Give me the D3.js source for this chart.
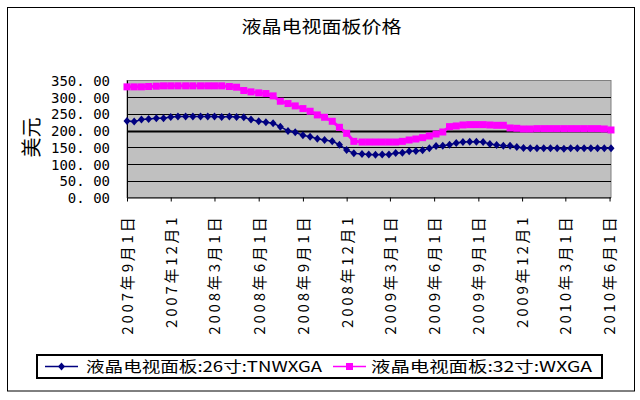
<!DOCTYPE html>
<html>
<head>
<meta charset="utf-8">
<script src="https://cdn.jsdelivr.net/npm/d3@7/dist/d3.min.js"></script>
<style>
  html, body { margin: 0; padding: 0; background: #fff; }
  svg { display: block; }
</style>
</head>
<body>
<svg id="chart" width="640" height="400"></svg>
<script>
// ---------- data ----------
const chartTitle = "液晶电视面板价格";
const yTitle = "美元";
const seriesNames = ["液晶电视面板:26寸:TNWXGA", "液晶电视面板:32寸:WXGA"];

const dates = [
  "2007-09-01","2007-09-16","2007-10-01","2007-10-16","2007-11-01","2007-11-16",
  "2007-12-01","2007-12-16","2008-01-01","2008-01-16","2008-02-01","2008-02-16",
  "2008-03-01","2008-03-16","2008-04-01","2008-04-16","2008-05-01","2008-05-16",
  "2008-06-01","2008-06-16","2008-07-01","2008-07-16","2008-08-01","2008-08-16",
  "2008-09-01","2008-09-16","2008-10-01","2008-10-16","2008-11-01","2008-11-16",
  "2008-12-01","2008-12-16",
  "2009-01-02","2009-01-16","2009-01-30","2009-02-13","2009-02-27","2009-03-13",
  "2009-03-27","2009-04-10","2009-04-24","2009-05-08","2009-05-22","2009-06-05",
  "2009-06-19","2009-07-03","2009-07-17","2009-07-31","2009-08-14","2009-08-28",
  "2009-09-11","2009-09-25","2009-10-09","2009-10-23","2009-11-06","2009-11-20",
  "2009-12-04","2009-12-18","2010-01-01","2010-01-15","2010-01-29","2010-02-12",
  "2010-02-26","2010-03-12","2010-03-26","2010-04-09","2010-04-23","2010-05-07",
  "2010-05-21","2010-06-04"
];

const panel26 = [
  229,227,233,235,237,237,241,242,242,242,242,242,
  242,241,242,241,240,233,228,225,222,212,199,195,
  186,182,176,172,168,158,142,132,
  130,129,128,129,129,133,134,138,139,141,147,154,
  155,158,163,166,167,167,166,160,157,155,155,151,
  148,147,147,147,147,147,146,147,147,147,147,147,
  147,147
];

const panel32 = [
  331,331,331,332,333,334,334,334,334,334,334,334,
  334,334,332,330,320,316,313,311,304,288,281,274,
  266,258,247,240,228,210,192,168,
  166,166,166,166,166,166,168,172,175,179,184,190,
  196,212,214,217,218,218,218,217,216,216,208,207,
  205,205,206,206,206,206,206,206,206,206,206,206,
  205,202
];

const tickDates = [
  "2007-09-01","2007-12-01","2008-03-01","2008-06-01","2008-09-01","2008-12-01",
  "2009-03-01","2009-06-01","2009-09-01","2009-12-01","2010-03-01","2010-06-01"
];
const tickLabels = [
  "2007年9月1日","2007年12月1","2008年3月1日","2008年6月1日","2008年9月1日","2008年12月1",
  "2009年3月1日","2009年6月1日","2009年9月1日","2009年12月1","2010年3月1日","2010年6月1日"
];
const yTicks = [0, 50, 100, 150, 200, 250, 300, 350];

// ---------- layout ----------
const parse = d3.timeParse("%Y-%m-%d");
const dateObjs = dates.map(parse);
const plot = { left: 127, right: 611, top: 80.5, bottom: 197.5 };
const CJK = "'Noto Sans CJK SC', 'Noto Sans', sans-serif";

const svg = d3.select("#chart");

svg.append("rect").attr("x", 0).attr("y", 0).attr("width", 640).attr("height", 400).attr("fill", "#fff");
// outer frame
svg.append("rect").attr("x", 7.5).attr("y", 7.5).attr("width", 627).attr("height", 383.5)
  .attr("fill", "none").attr("stroke", "#000").attr("stroke-width", 1);

const x = d3.scaleTime().domain(d3.extent(dateObjs)).range([plot.left, plot.right]);
const y = d3.scaleLinear().domain([0, 350]).range([plot.bottom, plot.top]);

// plot background
svg.append("rect").attr("x", plot.left).attr("y", plot.top)
  .attr("width", plot.right - plot.left).attr("height", plot.bottom - plot.top)
  .attr("fill", "#c0c0c0").attr("stroke", "#808080").attr("stroke-width", 1);

// gridlines
svg.append("g").selectAll("line").data(yTicks.filter(v => v > 0 && v < 350)).join("line")
  .attr("x1", plot.left).attr("x2", plot.right)
  .attr("y1", d => Math.round(y(d)) + 0.5).attr("y2", d => Math.round(y(d)) + 0.5)
  .attr("stroke", "#000").attr("stroke-width", d => d === 200 ? 2 : 1);

// y axis
const yAxis = svg.append("g").attr("transform", `translate(${plot.left},0)`)
  .call(d3.axisLeft(y).tickValues(yTicks).tickSize(0).tickPadding(17)
    .tickFormat(d => d3.format(".2f")(d).replace(".", ". ")));
yAxis.select(".domain").attr("stroke", "#000").attr("d", `M0.5,${plot.top}V${plot.bottom}`);
yAxis.selectAll("text").attr("font-family", "'DejaVu Sans Mono', monospace")
  .attr("font-size", 14).attr("fill", "#000").attr("dy", "0.36em");

// x axis
const xAxis = svg.append("g").attr("transform", `translate(0,${plot.bottom})`)
  .call(d3.axisBottom(x).tickValues(tickDates.map(parse)).tickSize(4)
    .tickFormat((d, i) => tickLabels[i]));
xAxis.select(".domain").attr("stroke", "#000").attr("d", `M${plot.left},0.5H${plot.right}`);
xAxis.selectAll(".tick line").attr("stroke", "#000");
xAxis.selectAll("text")
  .attr("font-family", CJK).attr("font-size", 15).attr("letter-spacing", 2.8)
  .attr("fill", "#000")
  .attr("text-anchor", "end")
  .attr("transform", "rotate(-90)")
  .attr("x", -17).attr("y", 0).attr("dy", "0.36em");

// y title
svg.append("text").attr("transform", "translate(31.5,137.5) rotate(-90)")
  .attr("text-anchor", "middle").attr("dy", "0.36em")
  .attr("font-family", CJK).attr("font-size", 20).attr("fill", "#000")
  .text(yTitle);

// title
svg.append("text").attr("x", 241.5).attr("y", 33)
  .attr("textLength", 160).attr("lengthAdjust", "spacingAndGlyphs")
  .attr("font-family", CJK).attr("font-size", 17).attr("fill", "#000")
  .text(chartTitle);

// series
const diamond = "M0,-4L3.5,0L0,4L-3.5,0Z";
const line = d3.line().x((d, i) => x(dateObjs[i])).y(d => y(d));

svg.append("path").datum(panel32).attr("d", line)
  .attr("fill", "none").attr("stroke", "#ff00ff").attr("stroke-width", 3);
svg.append("g").selectAll("rect").data(panel32).join("rect")
  .attr("x", (d, i) => x(dateObjs[i]) - 3.5).attr("y", d => y(d) - 3.5)
  .attr("width", 7).attr("height", 7).attr("fill", "#ff00ff");

svg.append("path").datum(panel26).attr("d", line)
  .attr("fill", "none").attr("stroke", "#000080").attr("stroke-width", 1.5);
svg.append("g").selectAll("path").data(panel26).join("path")
  .attr("transform", (d, i) => `translate(${x(dateObjs[i])},${y(d)})`)
  .attr("d", diamond).attr("fill", "#000080");

// legend
const lg = svg.append("g");
lg.append("rect").attr("x", 37).attr("y", 355).attr("width", 565).attr("height", 23)
  .attr("fill", "#fff").attr("stroke", "#000").attr("stroke-width", 2);
const ly = 366.5;
lg.append("line").attr("x1", 45).attr("x2", 78).attr("y1", ly).attr("y2", ly)
  .attr("stroke", "#000080").attr("stroke-width", 1.5);
lg.append("path").attr("transform", `translate(61.5,${ly})`).attr("d", diamond).attr("fill", "#000080");
lg.append("text").attr("x", 86).attr("y", ly).attr("dy", "0.36em")
  .attr("textLength", 236).attr("lengthAdjust", "spacingAndGlyphs")
  .attr("font-family", CJK).attr("font-size", 15).attr("fill", "#000")
  .text(seriesNames[0]);
lg.append("line").attr("x1", 333).attr("x2", 366).attr("y1", ly).attr("y2", ly)
  .attr("stroke", "#ff00ff").attr("stroke-width", 1.5);
lg.append("rect").attr("x", 346).attr("y", ly - 3.5).attr("width", 7).attr("height", 7).attr("fill", "#ff00ff");
lg.append("text").attr("x", 371).attr("y", ly).attr("dy", "0.36em")
  .attr("textLength", 221).attr("lengthAdjust", "spacingAndGlyphs")
  .attr("font-family", CJK).attr("font-size", 15).attr("fill", "#000")
  .text(seriesNames[1]);
</script>
</body>
</html>
